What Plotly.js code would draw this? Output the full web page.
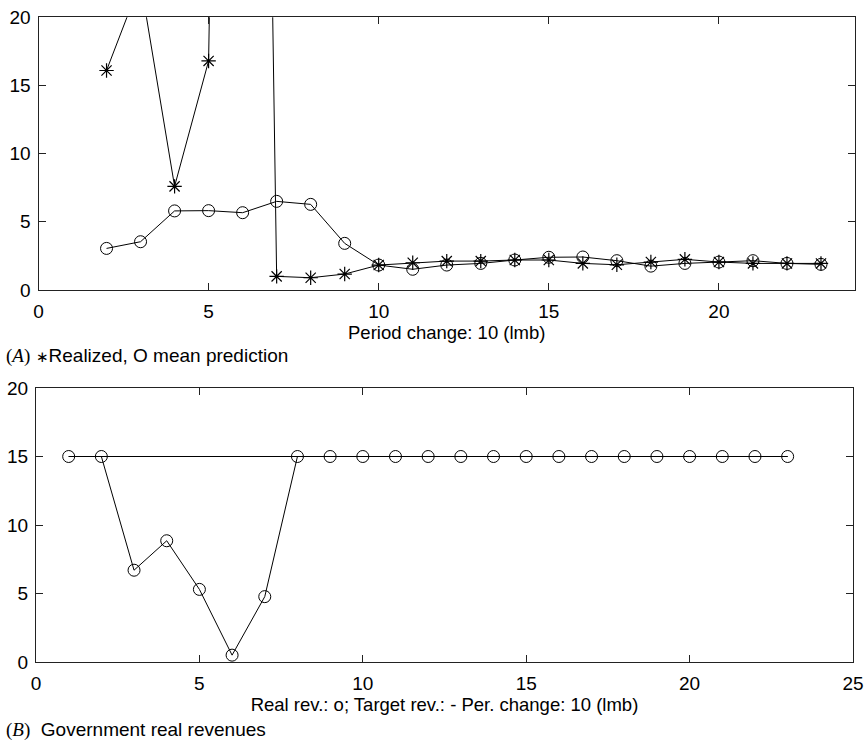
<!DOCTYPE html>
<html>
<head>
<meta charset="utf-8">
<script src="https://cdn.plot.ly/plotly-3.0.1.min.js"></script>
<style>html,body{margin:0;padding:0;background:#fff;}#chart{width:867px;height:745px;}</style>
</head>
<body>
<div id="chart"></div>
<script>
// Panel A: realized (*) and mean prediction (o), periods 2..23
const periodsA = [2,3,4,5,6,7,8,9,10,11,12,13,14,15,16,17,18,19,20,21,22,23];
const realized = [16.1,22.6,7.6,16.8,165,1.0,0.9,1.17,1.83,2.0,2.12,2.12,2.2,2.2,1.95,1.85,2.05,2.25,2.05,1.95,1.95,1.95];
const meanPrediction = [3.05,3.54,5.8,5.82,5.67,6.5,6.28,3.42,1.83,1.52,1.83,1.95,2.2,2.4,2.42,2.15,1.75,1.95,2.05,2.15,1.95,1.88];

// Panel B: real revenues (o) and target revenues (-), periods 1..23
const periodsB = [1,2,3,4,5,6,7,8,9,10,11,12,13,14,15,16,17,18,19,20,21,22,23];
const realRevenue = [15,15,6.7,8.85,5.3,0.5,4.77,15,15,15,15,15,15,15,15,15,15,15,15,15,15,15,15];
const targetRevenue = [15,15,15,15,15,15,15,15,15,15,15,15,15,15,15,15,15,15,15,15,15,15,15];

const ticksA = [0,5,10,15,20];
const ticksYA = [0,5,10,15,20];
const ticksB = [0,5,10,15,20,25];
const ticksYB = [0,5,10,15,20];

const FONT = 'Liberation Sans, Arial, Helvetica, sans-serif';
const line = {color:'#000', width:1};

const traces = [
  {x: periodsA, y: realized, xaxis:'x', yaxis:'y', mode:'lines+markers', name:'Realized',
   line: line, marker:{symbol:'asterisk-open', size:12, color:'#000', line:{color:'#000', width:1.2}}, cliponaxis:true},
  {x: periodsA, y: meanPrediction, xaxis:'x', yaxis:'y', mode:'lines+markers', name:'Mean prediction',
   line: line, marker:{symbol:'circle-open', size:12, color:'#000', line:{color:'#000', width:1}}, cliponaxis:true},
  {x: periodsB, y: targetRevenue, xaxis:'x2', yaxis:'y2', mode:'lines', name:'Target rev.', line: line},
  {x: periodsB, y: realRevenue, xaxis:'x2', yaxis:'y2', mode:'lines+markers', name:'Real rev.',
   line: line, marker:{symbol:'circle-open', size:12, color:'#000', line:{color:'#000', width:1}}}
];

const axisCommon = {
  showline:true, linecolor:'#222', linewidth:1, mirror:'ticks',
  ticks:'inside', ticklen:7, tickcolor:'#222', tickwidth:1,
  showgrid:false, zeroline:false,
  tickfont:{family:FONT, size:19, color:'#000'}, tickmode:'array'
};

const layout = {
  width:867, height:745,
  margin:{l:0, r:0, t:0, b:0},
  paper_bgcolor:'#fff', plot_bgcolor:'#fff',
  showlegend:false,
  font:{family:FONT, color:'#000'},
  xaxis: Object.assign({}, axisCommon, {domain:[38.5/867, 855/867], range:[0,24], tickvals:ticksA,
    anchor:'y', ticklabelstandoff:4,
    title:{text:'Period change: 10 (lmb)', font:{family:FONT, size:18.5, color:'#000'}, standoff:1}}),
  yaxis: Object.assign({}, axisCommon, {domain:[1-290/745, 1-17.3/745], range:[0,20], tickvals:ticksYA, anchor:'x', ticklabelstandoff:3}),
  xaxis2: Object.assign({}, axisCommon, {domain:[36/867, 853/867], range:[0,25], tickvals:ticksB,
    anchor:'y2', ticklabelstandoff:4,
    title:{text:'Real rev.: o; Target rev.: - Per. change: 10 (lmb)', font:{family:FONT, size:18.5, color:'#000'}, standoff:3}}),
  yaxis2: Object.assign({}, axisCommon, {domain:[1-662/745, 1-388/745], range:[0,20], tickvals:ticksYB, anchor:'x2', ticklabelstandoff:3}),
  annotations:[
    {xref:'paper', yref:'paper', x:4/867, y:1-356/745, xanchor:'left', yanchor:'middle', showarrow:false,
     text:'<span style="font-family:Liberation Serif, Times New Roman, serif">(<i>A</i>)</span> <span style="font-size:15px">\u2217</span>Realized, O mean prediction',
     font:{family:FONT, size:19, color:'#000'}},
    {xref:'paper', yref:'paper', x:4/867, y:1-730/745, xanchor:'left', yanchor:'middle', showarrow:false,
     text:'<span style="font-family:Liberation Serif, Times New Roman, serif">(<i>B</i>)</span>  Government real revenues',
     font:{family:FONT, size:19, color:'#000'}}
  ]
};

Plotly.newPlot('chart', traces, layout, {staticPlot:true, displayModeBar:false});
</script>
</body>
</html>
